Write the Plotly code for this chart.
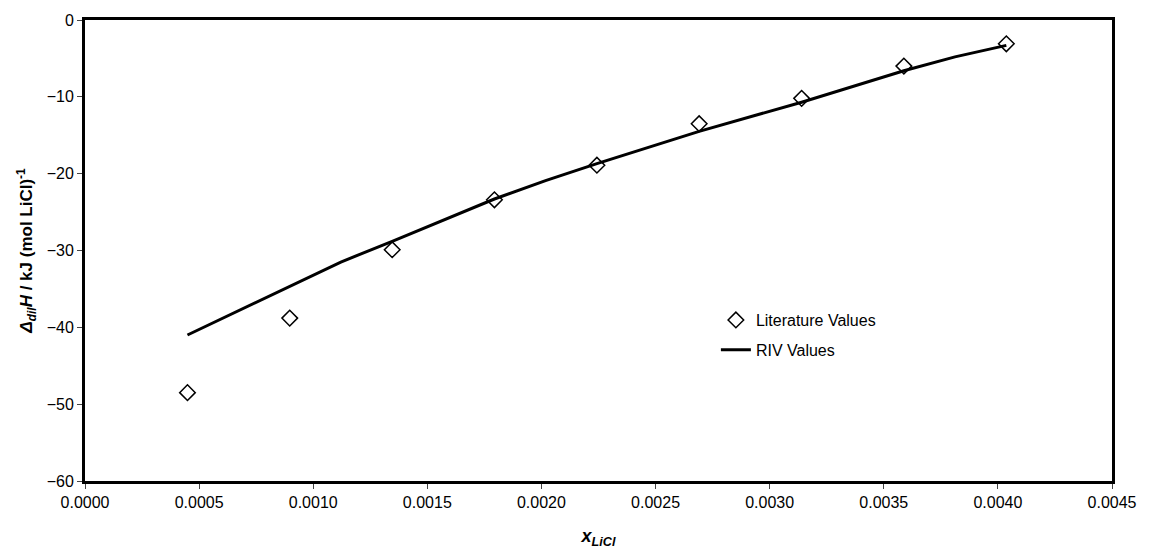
import plotly.graph_objects as go

# Mole fraction of LiCl for the literature data points
x_lit = [0.000449, 0.000897, 0.001346, 0.001794, 0.002243, 0.002691, 0.003140, 0.003588, 0.004037]
# Literature enthalpy of dilution, kJ (mol LiCl)^-1
dH_lit = [-48.5, -38.8, -29.9, -23.4, -18.9, -13.5, -10.2, -6.0, -3.1]

# RIV model curve
x_riv = [0.000449, 0.000897, 0.001121, 0.001346, 0.001794, 0.002018, 0.002243, 0.002691, 0.003140, 0.003588, 0.003812, 0.004037]
dH_riv = [-41.0, -34.6, -31.5, -28.8, -23.3, -20.9, -18.7, -14.5, -10.7, -6.6, -4.8, -3.3]

FONT = "Liberation Sans, Arial, sans-serif"

fig = go.Figure()
fig.add_trace(go.Scatter(
    x=x_lit, y=dH_lit, mode="markers", name="Literature Values",
    legendgroup="a",
    marker=dict(symbol="diamond-open", size=12, color="black", line=dict(width=1.5, color="black")),
))
fig.add_trace(go.Scatter(
    x=x_riv, y=dH_riv, mode="lines", name="RIV Values",
    legendgroup="b",
    line=dict(color="black", width=3),
))

fig.update_layout(
    width=1149, height=556,
    margin=dict(l=85, r=32, t=20, b=74),
    paper_bgcolor="white", plot_bgcolor="white",
    font=dict(family=FONT, size=16, color="black"),
    showlegend=True,
    legend=dict(
        x=0.6143, xanchor="left", y=0.386, yanchor="top",
        bgcolor="rgba(0,0,0,0)", font=dict(size=16),
        tracegroupgap=6,
    ),
    xaxis=dict(
        range=[0, 0.0045], dtick=0.0005, tick0=0, tickformat=".4f",
        showgrid=False, zeroline=False,
        showline=True, linecolor="black", linewidth=3, mirror=True,
        ticks="outside", ticklen=5, tickwidth=1, tickcolor="#444",
        tickfont=dict(size=16),
        title=dict(text="<b><i>x</i><sub><i>LiCl</i></sub></b>", font=dict(size=18), standoff=20),
    ),
    yaxis=dict(
        range=[-60, 0], dtick=10,
        showgrid=False, zeroline=False,
        showline=True, linecolor="black", linewidth=3, mirror=True,
        ticks="outside", ticklen=5, tickwidth=1, tickcolor="#444",
        tickfont=dict(size=16),
        title=dict(text="<b><i>Δ<sub>dil</sub>H</i> / kJ (mol LiCl)<sup>-1</sup></b>", font=dict(size=17), standoff=10),
    ),
)

fig.write_html("out.html")
